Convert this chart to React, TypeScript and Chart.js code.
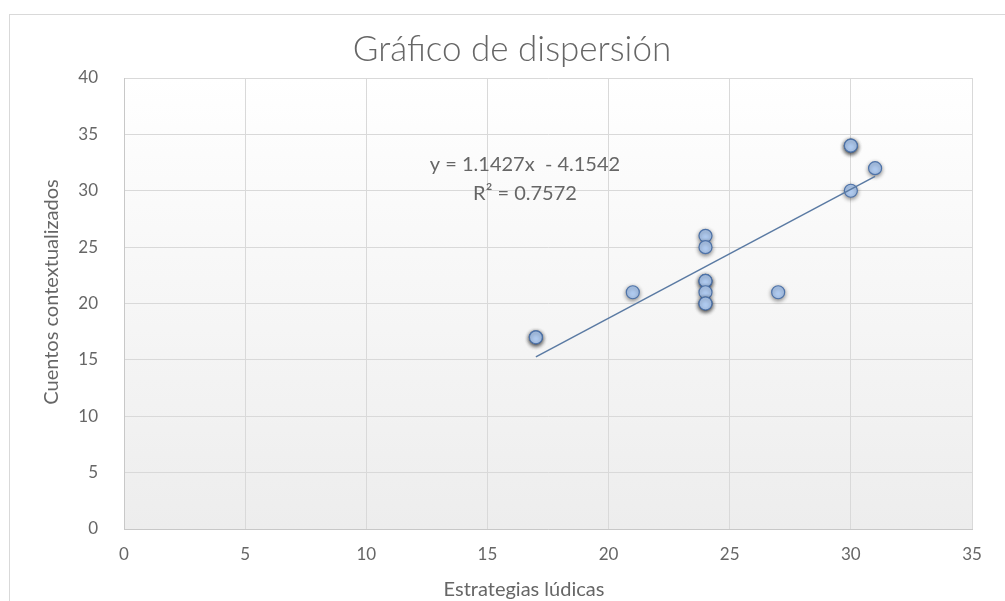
import { useEffect, useRef } from "react";
import { Chart, registerables } from "chart.js";

Chart.register(...registerables);

// ---- data ----
const strategies = [17, 17, 21, 24, 24, 24, 24, 24, 24, 24, 27, 30, 30, 30, 31];
const stories = [17, 17, 21, 26, 25, 22, 22, 21, 20, 20, 21, 34, 34, 30, 32];
const trendSlope = 1.1427;
const trendIntercept = -4.1542;
const trendFrom = 17;
const trendTo = 31;
const chartTitle = "Gráfico de dispersión";
const xAxisTitle = "Estrategias lúdicas";
const yAxisTitle = "Cuentos contextualizados";
const equationLines = ["y = 1.1427x  - 4.1542", "R² = 0.7572"];
const equationAnchorX = 16.55;
const equationAnchorY = [32.3, 29.75];

const FONT = "Lato, 'Open Sans', sans-serif";
const TEXT = "#666666";

export default function App() {
  const ref = useRef<HTMLCanvasElement | null>(null);

  useEffect(() => {
    if (!ref.current) return;
    const points = strategies.map((x, i) => ({ x, y: stories[i] }));
    const trend = [trendFrom, trendTo].map((x) => ({ x, y: trendSlope * x + trendIntercept }));

    const bgPlugin = {
      id: "plotBg",
      beforeDraw(chart: any) {
        const { ctx, chartArea: a } = chart;
        const g = ctx.createLinearGradient(0, a.top, 0, a.bottom);
        g.addColorStop(0, "#ffffff");
        g.addColorStop(1, "#ededed");
        ctx.save();
        ctx.fillStyle = g;
        ctx.fillRect(a.left, a.top, a.right - a.left, a.bottom - a.top);
        ctx.restore();
      },
    };

    const shadowPlugin = {
      id: "pointShadow",
      beforeDatasetDraw(chart: any, args: any) {
        const ctx = chart.ctx;
        ctx.save();
        if (args.index === 1) {
          ctx.shadowColor = "rgba(0,0,0,0.45)";
          ctx.shadowBlur = 4;
          ctx.shadowOffsetX = 0;
          ctx.shadowOffsetY = 1.5;
        }
      },
      afterDatasetDraw(chart: any) {
        chart.ctx.restore();
      },
    };

    const textPlugin = {
      id: "texts",
      afterDraw(chart: any) {
        const { ctx, chartArea: a, scales } = chart;
        ctx.save();
        ctx.fillStyle = TEXT;
        ctx.textAlign = "center";
        ctx.textBaseline = "middle";
        ctx.font = `300 35px ${FONT}`;
        ctx.fillText(chartTitle, 512, 50);
        ctx.font = `20px ${FONT}`;
        equationLines.forEach((line, i) => {
          ctx.fillText(line, scales.x.getPixelForValue(equationAnchorX), scales.y.getPixelForValue(equationAnchorY[i]));
        });
        ctx.font = `20px ${FONT}`;
        ctx.fillText(xAxisTitle, 524, a.bottom + 61);
        ctx.translate(52, 292);
        ctx.rotate(-Math.PI / 2);
        ctx.fillText(yAxisTitle, 0, 0);
        ctx.restore();
      },
    };

    const chart = new Chart(ref.current, {
      type: "scatter",
      data: {
        datasets: [
          {
            type: "line",
            label: "Tendencia",
            data: trend,
            borderColor: "#5a7aa3",
            borderWidth: 1.5,
            pointRadius: 0,
            fill: false,
          } as any,
          {
            label: "Datos",
            data: points,
            backgroundColor: "#b0cbf0",
            borderColor: "#4d72a8",
            borderWidth: 1.2,
            pointRadius: 6.5,
          },
        ],
      },
      options: {
        animation: false,
        responsive: false,
        devicePixelRatio: 1,
        layout: { padding: { top: 78, right: 33, left: 0, bottom: 0 } },
        plugins: { legend: { display: false }, tooltip: { enabled: false }, title: { display: false } },
        scales: {
          x: {
            type: "linear",
            min: 0,
            max: 35,
            ticks: { stepSize: 5, color: TEXT, padding: 15, font: { family: FONT, size: 17 } },
            grid: { color: "#d9d9d9", drawTicks: false },
            border: { color: "#c8c8c8" },
            afterFit: (s: any) => {
              s.height = 72;
            },
          },
          y: {
            type: "linear",
            min: 0,
            max: 40,
            ticks: { stepSize: 5, color: TEXT, padding: 26, font: { family: FONT, size: 17 } },
            grid: { color: "#d9d9d9", drawTicks: false },
            border: { color: "#c8c8c8" },
            afterFit: (s: any) => {
              s.width = 124;
            },
          },
        },
      },
      plugins: [bgPlugin, shadowPlugin, textPlugin],
    });
    return () => chart.destroy();
  }, []);

  return (
    <div style={{ position: "fixed", inset: 0, overflow: "hidden", background: "#fff" }}>
      <div
        style={{
          position: "absolute",
          left: 9,
          top: 14,
          width: 1100,
          height: 700,
          border: "1px solid #d9d9d9",
        }}
      />
      <canvas ref={ref} width={1005} height={601} style={{ position: "absolute", left: 0, top: 0 }} />
    </div>
  );
}
